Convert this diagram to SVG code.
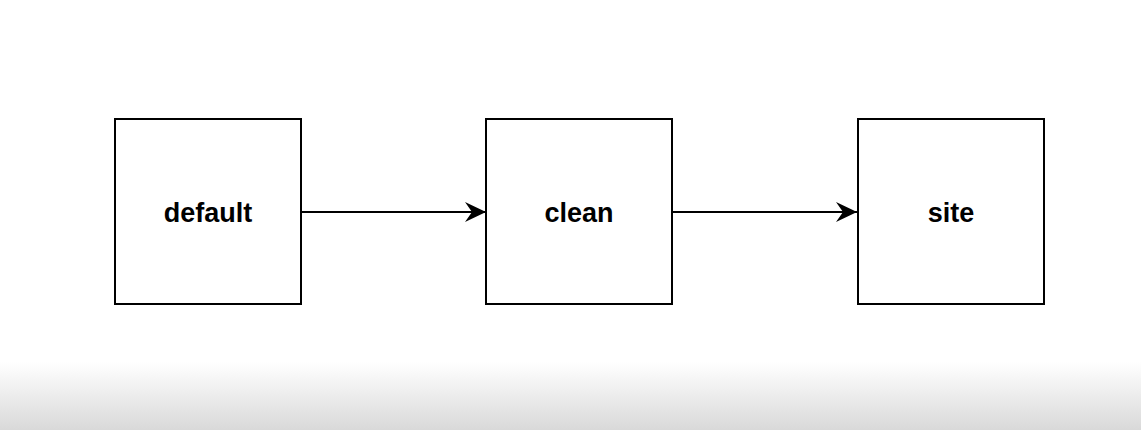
<svg xmlns="http://www.w3.org/2000/svg" width="1141" height="430" viewBox="0 0 1141 430">
<style>
.box{fill:#fff;stroke:#000;stroke-width:2}
.lbl{font-family:"Liberation Sans",Arial,sans-serif;font-weight:bold;font-size:27px;fill:#000;text-anchor:middle}
.edge{stroke:#000;stroke-width:2;fill:none}
</style>
<defs>
<linearGradient id="fade" x1="0" y1="0" x2="0" y2="1">
<stop offset="0" stop-color="#ffffff"/>
<stop offset="1" stop-color="#d9d9d9"/>
</linearGradient>
<marker id="arr" markerUnits="userSpaceOnUse" markerWidth="22" markerHeight="22" refX="21" refY="11" orient="auto" viewBox="0 0 22 22">
<path d="M0,1 L21,11 L0,21 L7,11 Z" fill="#000"/>
</marker>
</defs>
<rect width="1141" height="430" fill="#fff"/>
<rect x="0" y="362" width="1141" height="68" fill="url(#fade)"/>
<g id="connectors">
<line class="edge" x1="302" y1="212" x2="486" y2="212" marker-end="url(#arr)"/>
<line class="edge" x1="673" y1="212" x2="857" y2="212" marker-end="url(#arr)"/>
</g>
<g id="node-default">
<rect class="box" x="115" y="119" width="186" height="185"/>
<text class="lbl" x="208" y="222">default</text>
</g>
<g id="node-clean">
<rect class="box" x="486" y="119" width="186" height="185"/>
<text class="lbl" x="579" y="222">clean</text>
</g>
<g id="node-site">
<rect class="box" x="858" y="119" width="186" height="185"/>
<text class="lbl" x="951" y="222">site</text>
</g>
</svg>
